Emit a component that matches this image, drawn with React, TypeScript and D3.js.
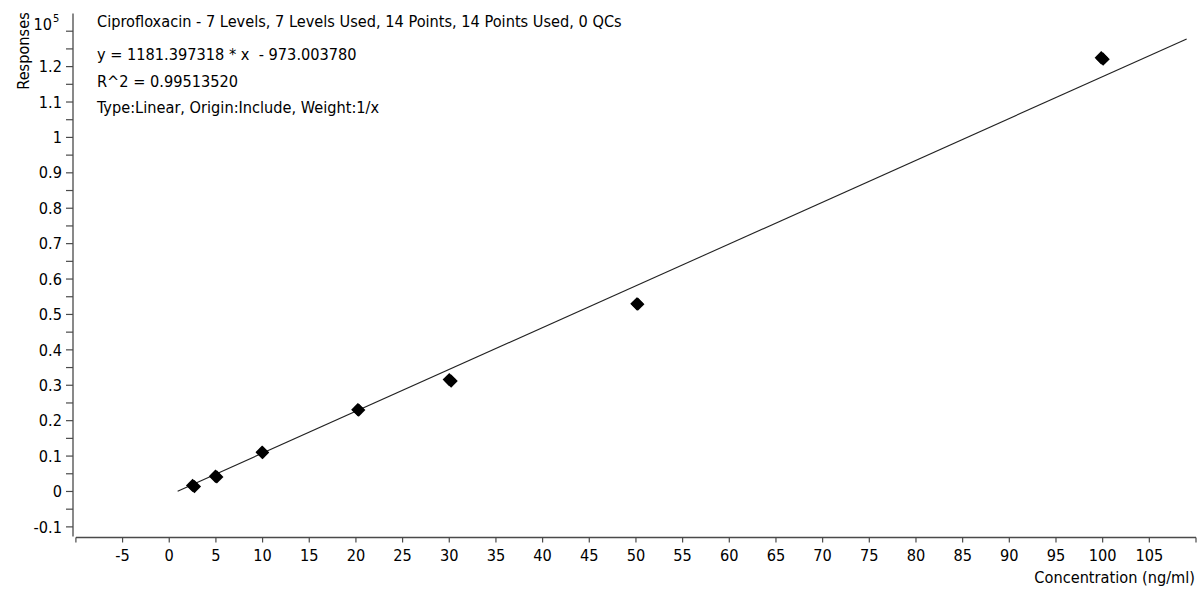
import React from 'react'
import * as d3 from 'd3'

// calibration replicates (x in ng/ml, y in units of 10^5 responses)
const concentrations = [2.5, 2.7, 4.95, 5.1, 9.95, 10.0, 20.2, 20.3, 30.0, 30.2, 50.1, 50.2, 99.85, 100.05]
const responses = [0.017, 0.014, 0.043, 0.041, 0.111, 0.110, 0.231, 0.230, 0.316, 0.312, 0.530, 0.529, 1.225, 1.221]

// fit reported by the software
const fitSlope = 1181.397318
const fitIntercept = -973.00378
const responseScale = 1e5
const fitRange = [0.9, 109]

const xTickValues = [-10, -5, 0, 5, 10, 15, 20, 25, 30, 35, 40, 45, 50, 55, 60, 65, 70, 75, 80, 85, 90, 95, 100, 105, 110]
const xTickLabels = ['', '-5', '0', '5', '10', '15', '20', '25', '30', '35', '40', '45', '50', '55', '60', '65', '70', '75', '80', '85', '90', '95', '100', '105', '']

const yTickValues = [-0.1, 0, 0.1, 0.2, 0.3, 0.4, 0.5, 0.6, 0.7, 0.8, 0.9, 1, 1.1, 1.2]
const yTickLabels = ['-0.1', '0', '0.1', '0.2', '0.3', '0.4', '0.5', '0.6', '0.7', '0.8', '0.9', '1', '1.1', '1.2']
const yMinorTicks = [-0.05, 0.05, 0.15, 0.25, 0.35, 0.45, 0.55, 0.65, 0.75, 0.85, 0.95, 1.05, 1.15, 1.25]

const headerLines = [
  'Ciprofloxacin - 7 Levels, 7 Levels Used, 14 Points, 14 Points Used, 0 QCs',
  'y = 1181.397318 * x  - 973.003780',
  'R^2 = 0.99513520',
  'Type:Linear, Origin:Include, Weight:1/x',
]
const headerBaselines = [26.5, 60, 86.5, 113]

const width = 1199
const height = 589
const font = '"DejaVu Sans Condensed", "Liberation Sans Narrow", sans-serif'
const axisColor = '#4a4a4a'

export default function App() {
  const x = d3.scaleLinear().domain([-10, 110]).range([75.9, 1196])
  const y = d3.scaleLinear().domain([-0.13, 1.35]).range([537.5, 13.5])
  const yAxisX = 73
  const xAxisY = 537.5

  const points = concentrations.map((c, i) => ({ c, r: responses[i] }))

  const fitData = fitRange.map((c) => ({ c, r: (fitSlope * c + fitIntercept) / responseScale }))
  const fitLine = d3
    .line<{ c: number; r: number }>()
    .x((d) => x(d.c))
    .y((d) => y(d.r))

  const diamond = d3.symbol().type(d3.symbolSquare).size(88)()

  const textStyle = { fontFamily: font, fontSize: '16.2px', fill: '#000' }

  return (
    <div style={{ position: 'fixed', left: 0, top: 0 }}>
      <svg width={width} height={height} style={{ display: 'block', background: '#fff' }}>
        {/* y axis */}
        <line x1={yAxisX} x2={yAxisX} y1={y(1.35)} y2={xAxisY - 1} stroke={axisColor} strokeWidth={1.3} />
        {yTickValues.concat(yMinorTicks, [1.3]).map((v) => (
          <line key={'yt' + v} x1={yAxisX - 7} x2={yAxisX} y1={y(v)} y2={y(v)} stroke={axisColor} strokeWidth={1.2} />
        ))}
        {yTickValues.map((v, i) => (
          <text key={'yl' + v} x={62} y={y(v)} dy="0.35em" textAnchor="end" style={textStyle}>
            {yTickLabels[i]}
          </text>
        ))}
        <text x={52} y={y(1.3) - 1} textAnchor="end" style={textStyle}>
          10
        </text>
        <text x={53} y={y(1.3) - 9} textAnchor="start" style={{ ...textStyle, fontSize: '11px' }}>
          5
        </text>
        <text
          transform={`translate(23,51) rotate(-90)`}
          textAnchor="middle"
          dy="0.35em"
          style={textStyle}
        >
          Responses
        </text>

        {/* x axis */}
        <line x1={x(-10)} x2={x(110)} y1={xAxisY} y2={xAxisY} stroke={axisColor} strokeWidth={1.3} />
        {xTickValues.map((v, i) => (
          <g key={'xt' + v}>
            <line x1={x(v)} x2={x(v)} y1={xAxisY} y2={xAxisY + 5} stroke={axisColor} strokeWidth={1.2} />
            <text x={x(v)} y={561} textAnchor="middle" style={textStyle}>
              {xTickLabels[i]}
            </text>
          </g>
        ))}
        <text x={1195} y={583} textAnchor="end" style={textStyle}>
          Concentration (ng/ml)
        </text>

        {/* header */}
        {headerLines.map((t, i) => (
          <text key={'h' + i} x={97} y={headerBaselines[i]} style={{ ...textStyle, whiteSpace: 'pre' }}>
            {t}
          </text>
        ))}

        {/* fit */}
        <path d={fitLine(fitData) || ''} fill="none" stroke="#222" strokeWidth={1.1} />

        {/* replicates */}
        {points.map((p, i) => (
          <path
            key={'p' + i}
            d={diamond || ''}
            transform={`translate(${x(p.c)},${y(p.r)}) rotate(45)`}
            fill="#000"
          />
        ))}
      </svg>
    </div>
  )
}
